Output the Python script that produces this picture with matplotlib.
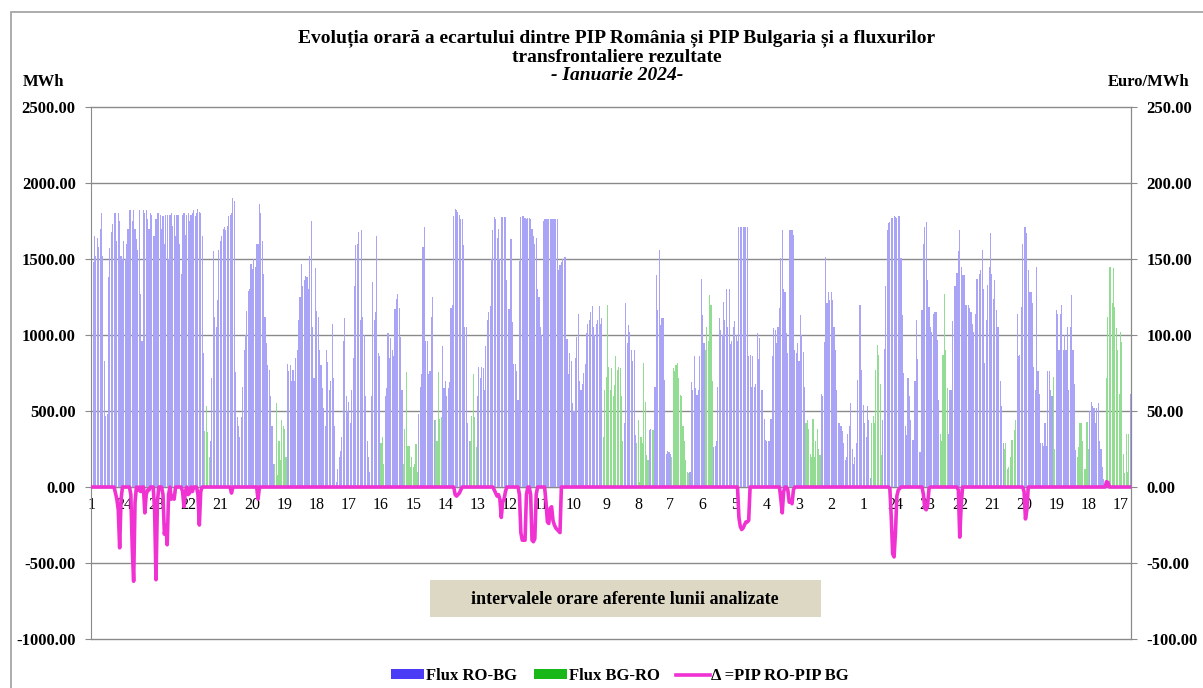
import matplotlib
matplotlib.use("Agg")
import matplotlib.pyplot as plt
from matplotlib.patches import Rectangle, Patch
from matplotlib.lines import Line2D
import numpy as np

# hourly flows, MWh, one list of 24 hours per day of January 2024
ro_bg = {
    1: [1740, 1480, 1650, 1520, 1640, 1580, 1700, 1800, 1520, 830, 470, 480, 1380, 1570, 1680, 1730, 1800, 1800, 1620, 1800, 1750, 1520, 1500, 1620],
    2: [1500, 1600, 1700, 1820, 1820, 1750, 1820, 1700, 1630, 1560, 1820, 1270, 960, 1820, 1800, 1820, 1760, 1700, 1800, 1790, 1650, 1650, 1760, 1800],
    3: [1800, 1790, 1700, 1780, 1600, 1790, 1790, 1500, 1790, 1800, 1720, 1790, 1650, 1790, 1790, 1600, 1400, 1790, 1800, 1660, 1790, 1800, 1750, 1790],
    4: [1800, 1820, 1780, 1800, 1830, 1810, 1800, 1650, 880, 0, 0, 0, 0, 300, 715, 1555, 1120, 1050, 1230, 1560, 1620, 1650, 1700, 1710],
    5: [1690, 1720, 1780, 1790, 1800, 1900, 1880, 755, 460, 400, 330, 460, 660, 900, 1000, 1160, 1290, 1300, 1470, 1435, 1500, 1450, 1600, 1600],
    6: [1865, 1800, 1620, 1400, 1120, 950, 800, 770, 600, 400, 150, 0, 0, 0, 0, 0, 0, 0, 0, 0, 810, 760, 800, 700],
    7: [770, 700, 850, 900, 1100, 1250, 1470, 1320, 1360, 1390, 1380, 1300, 1520, 1750, 1050, 720, 1440, 1160, 1120, 900, 800, 650, 520, 400],
    8: [900, 820, 640, 700, 1070, 720, 400, 30, 120, 200, 240, 330, 960, 1115, 600, 500, 560, 420, 640, 850, 1320, 1590, 1600, 1680],
    9: [1100, 1690, 1120, 1000, 600, 300, 200, 100, 600, 1350, 1100, 1150, 1650, 880, 860, 0, 0, 0, 600, 650, 1010, 850, 980, 900],
    10: [860, 1170, 1240, 1270, 1180, 990, 640, 0, 0, 0, 0, 0, 0, 0, 0, 0, 0, 0, 480, 660, 745, 1580, 1710, 960],
    11: [960, 745, 760, 1120, 1250, 440, 0, 0, 0, 0, 0, 930, 650, 700, 600, 650, 690, 1180, 1200, 1780, 1830, 1820, 1810, 1790],
    12: [1760, 1760, 1590, 1050, 1050, 420, 300, 0, 0, 0, 0, 0, 600, 790, 720, 790, 780, 640, 930, 1100, 1150, 1190, 1500, 1690],
    13: [1775, 1760, 1640, 1700, 1500, 1775, 1775, 1775, 1775, 1360, 1170, 1170, 1630, 1085, 810, 810, 760, 570, 1490, 1775, 1780, 1780, 1770, 1760],
    14: [1770, 1770, 1760, 1700, 1650, 1600, 1640, 1300, 1250, 1050, 1000, 1750, 1760, 1760, 1760, 1760, 1760, 1760, 1760, 1760, 1760, 1760, 1430, 1460],
    15: [1480, 1500, 1510, 1515, 975, 745, 880, 830, 550, 500, 850, 985, 1140, 700, 640, 680, 750, 810, 1010, 1070, 1100, 1150, 1190, 1050],
    16: [1000, 1070, 1100, 1190, 1070, 1115, 0, 0, 0, 0, 0, 0, 0, 0, 0, 0, 0, 0, 0, 0, 0, 420, 1210, 950],
    17: [1065, 1020, 900, 830, 900, 340, 0, 0, 0, 0, 0, 0, 0, 0, 0, 375, 380, 0, 0, 660, 1395, 1165, 1560, 1065],
    18: [1110, 1110, 705, 220, 240, 230, 220, 0, 0, 0, 0, 0, 0, 0, 0, 0, 0, 0, 0, 0, 100, 690, 640, 860],
    19: [650, 605, 640, 860, 1370, 1130, 950, 0, 0, 0, 0, 0, 0, 265, 270, 300, 660, 1110, 1030, 1000, 1220, 1100, 1300, 1050],
    20: [1300, 940, 960, 1055, 1090, 1000, 960, 1710, 1710, 1710, 1710, 1710, 1710, 1710, 860, 870, 660, 860, 660, 680, 1010, 840, 980, 640],
    21: [640, 450, 310, 300, 300, 300, 450, 860, 1045, 1030, 950, 1050, 1180, 1505, 1690, 1300, 1280, 1010, 880, 1690, 1690, 1690, 1660, 900],
    22: [880, 945, 830, 1130, 1000, 890, 660, 0, 0, 0, 0, 0, 0, 0, 0, 0, 0, 0, 615, 600, 955, 1515, 1210, 1285],
    23: [1230, 1285, 1230, 1055, 900, 640, 420, 420, 400, 370, 290, 180, 200, 350, 400, 550, 250, 150, 200, 290, 705, 1200, 1200, 770],
    24: [540, 420, 330, 530, 440, 60, 0, 0, 0, 0, 0, 0, 0, 0, 440, 910, 1320, 1690, 1735, 1745, 1770, 1770, 1780, 1775],
    25: [1770, 1780, 1780, 1505, 1130, 750, 400, 340, 715, 600, 440, 310, 310, 700, 1100, 845, 230, 230, 1165, 1600, 1710, 1745, 1360, 1185],
    26: [1055, 1020, 1140, 1150, 1150, 970, 570, 0, 0, 0, 0, 0, 0, 350, 640, 640, 1090, 1320, 1320, 1405, 1550, 1690, 1450, 1395],
    27: [1395, 1200, 1200, 1200, 1180, 1150, 1075, 1020, 1140, 1370, 1370, 1400, 1430, 1560, 1300, 815, 1100, 1330, 1450, 1670, 1400, 1240, 1360, 1165],
    28: [1055, 1055, 700, 530, 290, 0, 0, 0, 0, 0, 0, 0, 0, 0, 1140, 860, 870, 1185, 1600, 1710, 1710, 1670, 1430, 1285],
    29: [1285, 1210, 790, 640, 1450, 760, 615, 290, 290, 270, 420, 270, 760, 760, 640, 600, 0, 0, 1165, 1140, 900, 1140, 1200, 900],
    30: [1000, 900, 1055, 640, 1055, 1265, 900, 680, 245, 0, 0, 0, 0, 0, 0, 0, 0, 0, 500, 560, 530, 520, 420, 520],
    31: [550, 300, 250, 130, 50, 0, 0, 0, 0, 0, 0, 0, 0, 0, 0, 0, 0, 0, 0, 0, 0, 0, 0, 615],
}

# BG->RO flow, only the days where it appears (other days are 0)
bg_ro = {
    4: [0, 0, 0, 0, 0, 0, 0, 0, 0, 370, 530, 360, 200, 0, 0, 0, 0, 0, 0, 0, 0, 0, 0, 0],
    6: [0, 0, 0, 0, 0, 0, 0, 0, 0, 0, 0, 150, 550, 80, 300, 180, 440, 400, 380, 200, 0, 0, 0, 0],
    9: [0, 0, 0, 0, 0, 0, 0, 0, 0, 0, 0, 0, 0, 0, 0, 290, 330, 150, 0, 0, 0, 0, 0, 0],
    10: [0, 0, 0, 0, 0, 0, 0, 150, 380, 755, 270, 270, 130, 200, 130, 150, 280, 100, 0, 0, 0, 0, 0, 0],
    11: [0, 0, 0, 0, 0, 0, 440, 300, 755, 450, 460, 0, 0, 0, 0, 0, 0, 0, 0, 0, 0, 0, 0, 0],
    12: [0, 0, 0, 0, 0, 0, 0, 300, 470, 745, 460, 260, 0, 0, 0, 0, 0, 0, 0, 0, 0, 0, 0, 0],
    16: [0, 0, 0, 0, 0, 0, 330, 640, 725, 1195, 790, 640, 780, 600, 670, 860, 770, 790, 780, 600, 300, 0, 0, 0],
    17: [0, 0, 0, 0, 0, 0, 290, 440, 30, 330, 290, 815, 560, 210, 175, 0, 0, 375, 375, 0, 0, 0, 0, 0],
    18: [0, 0, 0, 0, 0, 0, 0, 200, 780, 760, 800, 815, 720, 605, 600, 400, 300, 180, 100, 90, 0, 0, 0, 0],
    19: [0, 0, 0, 0, 0, 0, 0, 900, 1055, 960, 1260, 1195, 700, 0, 0, 0, 0, 0, 0, 0, 0, 0, 0, 0],
    22: [0, 0, 0, 0, 0, 0, 0, 420, 440, 380, 220, 200, 450, 200, 300, 380, 250, 210, 0, 0, 0, 0, 0, 0],
    24: [0, 0, 0, 0, 0, 0, 420, 470, 420, 770, 935, 870, 680, 210, 0, 0, 0, 0, 0, 0, 0, 0, 0, 0],
    26: [0, 0, 0, 0, 0, 0, 0, 350, 300, 870, 1270, 900, 650, 0, 0, 0, 0, 0, 0, 0, 0, 0, 0, 0],
    28: [0, 0, 0, 0, 0, 250, 290, 120, 130, 200, 310, 310, 375, 440, 0, 0, 0, 0, 0, 0, 0, 0, 0, 0],
    29: [0, 0, 0, 0, 0, 0, 0, 0, 0, 0, 0, 0, 0, 0, 0, 0, 725, 250, 0, 0, 0, 0, 0, 0],
    30: [0, 0, 0, 0, 0, 0, 0, 0, 0, 200, 260, 420, 420, 300, 120, 120, 430, 250, 0, 0, 0, 0, 0, 0],
    31: [0, 0, 0, 0, 0, 30, 715, 1120, 1450, 1450, 1210, 1440, 1185, 1045, 900, 615, 1020, 955, 220, 90, 350, 100, 350, 0],
}

# price difference PIP RO - PIP BG, Euro/MWh, (day, hour): value, all other hours 0
delta_pip = {
    (1, 18): -4, (1, 19): -8, (1, 20): -15, (1, 21): -40, (1, 22): -8,
    (2, 5): -5, (2, 6): -40, (2, 7): -62, (2, 8): -10, (2, 10): -2, (2, 12): -3,
    (2, 15): -17, (2, 16): -5, (2, 17): -2, (2, 18): -2, (2, 22): -15, (2, 23): -61, (2, 24): -10,
    (3, 4): -5, (3, 5): -31, (3, 6): -25, (3, 7): -38, (3, 8): -5, (3, 10): -8, (3, 11): -6,
    (3, 12): -8, (3, 18): -3, (3, 19): -13, (3, 20): -3, (3, 22): -5, (3, 23): -4,
    (4, 1): -3, (4, 5): -5, (4, 6): -25, (4, 7): -3,
    (5, 5): -4, (5, 24): -8,
    (11, 21): -5, (11, 22): -6, (11, 23): -5, (11, 24): -4, (12, 1): -2,
    (13, 1): -2, (13, 2): -4, (13, 3): -6, (13, 4): -5, (13, 5): -8, (13, 6): -20, (13, 7): -10,
    (13, 8): -8, (13, 9): -3, (13, 19): -5, (13, 20): -30, (13, 21): -35, (13, 22): -35,
    (13, 23): -35, (13, 24): -5,
    (14, 3): -5, (14, 4): -35, (14, 5): -36, (14, 6): -34, (14, 7): -5, (14, 14): -10,
    (14, 15): -23, (14, 16): -24, (14, 17): -14, (14, 18): -13, (14, 19): -22, (14, 20): -25,
    (14, 21): -27, (14, 22): -28, (14, 23): -29, (14, 24): -30,
    (20, 8): -20, (20, 9): -26, (20, 10): -28, (20, 11): -27, (20, 12): -25, (20, 13): -23,
    (20, 14): -23, (20, 15): -22,
    (21, 14): -8, (21, 15): -17, (21, 16): -3, (21, 19): -2, (21, 20): -10, (21, 21): -9,
    (21, 22): -11, (21, 23): -2,
    (24, 20): -1, (24, 21): -20, (24, 22): -44, (24, 23): -46, (24, 24): -30,
    (25, 1): -6, (25, 2): -2, (25, 3): -1, (25, 20): -5, (25, 21): -14, (25, 22): -15,
    (25, 23): -12, (25, 24): -1,
    (26, 21): -2, (26, 22): -33, (26, 23): -12,
    (28, 20): -3, (28, 21): -21, (28, 22): -15,
    (31, 7): 3.5, (31, 8): 3,
}

x_labels = ["1", "24", "23", "22", "21", "20", "19", "18", "17", "16", "15", "14", "13", "12",
            "11", "10", "9", "8", "7", "6", "5", "4", "3", "2", "1", "24", "23", "22", "21",
            "20", "19", "18", "17"]

# build hourly arrays
days = range(1, 32)
flux_ro_bg = np.array([v for d in days for v in ro_bg[d]], dtype=float)
flux_bg_ro = np.array([v for d in days for v in bg_ro.get(d, [0] * 24)], dtype=float)
delta = np.zeros(len(flux_ro_bg))
for (d, h), v in delta_pip.items():
    delta[(d - 1) * 24 + h - 1] = v
hours = np.arange(len(flux_ro_bg))

serif = ['Liberation Serif', 'DejaVu Serif']
plt.rcParams['font.family'] = serif

W, H = 1203, 688
fig = plt.figure(figsize=(W / 100, H / 100), dpi=100)

# outer frame of the chart area
fig.patches.append(Rectangle((11 / W, -0.05), 1.1, 1 - 12 / H + 0.05, transform=fig.transFigure,
                             fill=False, edgecolor='#a6a6a6', linewidth=1.3))

ax = fig.add_axes([91 / W, 1 - 639 / H, (1131 - 91) / W, (639 - 107) / H])

for v in range(-1000, 2501, 500):
    ax.axhline(v, color='#8a8a8a', linewidth=1.0, zorder=0, clip_on=False)

ax.bar(hours, flux_ro_bg, width=0.8, color='#aaa4f6', linewidth=0, zorder=2)
ax.bar(hours, flux_bg_ro, width=0.8, color='#93dc93', linewidth=0, zorder=2)

ax.set_xlim(-0.5, len(hours) - 0.5)
ax.set_ylim(-1000, 2500)
ax.set_yticks(range(-1000, 2501, 500))
ax.set_yticklabels(['%.2f' % v for v in range(-1000, 2501, 500)], fontweight='bold', fontsize=12)
ax.tick_params(axis='y', length=4, color='#8a8a8a', pad=7)

ax.spines['top'].set_visible(False)
ax.spines['left'].set_color('#8a8a8a')
ax.spines['right'].set_color('#8a8a8a')
ax.spines['bottom'].set_position(('data', 0))
ax.spines['bottom'].set_color('#8a8a8a')
ax.set_xticks([23 * k for k in range(len(x_labels))])
ax.set_xticklabels(x_labels, fontsize=11.5)
ax.tick_params(axis='x', length=0, pad=7)

ax2 = ax.twinx()
ax2.plot(hours, delta, color='#f032d2', linewidth=2.6, zorder=5)
ax2.set_ylim(-100, 250)
ax2.set_yticks(range(-100, 251, 50))
ax2.set_yticklabels(['%.2f' % v for v in range(-100, 251, 50)], fontweight='bold', fontsize=12)
ax2.tick_params(axis='y', length=4, color='#8a8a8a', pad=7)
for s in ['top', 'bottom', 'left']:
    ax2.spines[s].set_visible(False)
ax2.spines['right'].set_color('#8a8a8a')

# titles and units
fig.text(617 / W, 1 - 38 / H, "Evoluția orară a ecartului dintre PIP România și PIP Bulgaria și a fluxurilor",
         ha='center', va='center', fontsize=14, fontweight='bold')
fig.text(617 / W, 1 - 57 / H, "transfrontaliere rezultate", ha='center', va='center',
         fontsize=14, fontweight='bold')
fig.text(617 / W, 1 - 76 / H, "- Ianuarie 2024-", ha='center', va='center',
         fontsize=14, fontweight='bold', fontstyle='italic')
fig.text(23 / W, 1 - 82 / H, "MWh", ha='left', va='center', fontsize=12, fontweight='bold')
fig.text(1189 / W, 1 - 82 / H, "Euro/MWh", ha='right', va='center', fontsize=12, fontweight='bold')

# note box
fig.patches.append(Rectangle((430 / W, 1 - 617 / H), (821 - 430) / W, 37 / H,
                             transform=fig.transFigure, facecolor='#ddd8c4', edgecolor='none'))
fig.text(625 / W, 1 - 599 / H, "intervalele orare aferente lunii analizate", ha='center', va='center',
         fontsize=13, fontweight='bold')

handles = [Patch(facecolor='#4b3cf5', edgecolor='none'),
           Patch(facecolor='#17b817', edgecolor='none'),
           Line2D([0], [0], color='#f032d2', linewidth=2.6)]
fig.legend(handles, ["Flux RO-BG", "Flux BG-RO", "Δ =PIP RO-PIP BG"], loc='center',
           bbox_to_anchor=(620 / W, 1 - 676 / H), ncol=3, frameon=False,
           prop={'family': serif, 'weight': 'bold', 'size': 12},
           handlelength=2.0, handleheight=0.55, handletextpad=0.1, columnspacing=1.0)

fig.savefig("out.png", dpi=100)
